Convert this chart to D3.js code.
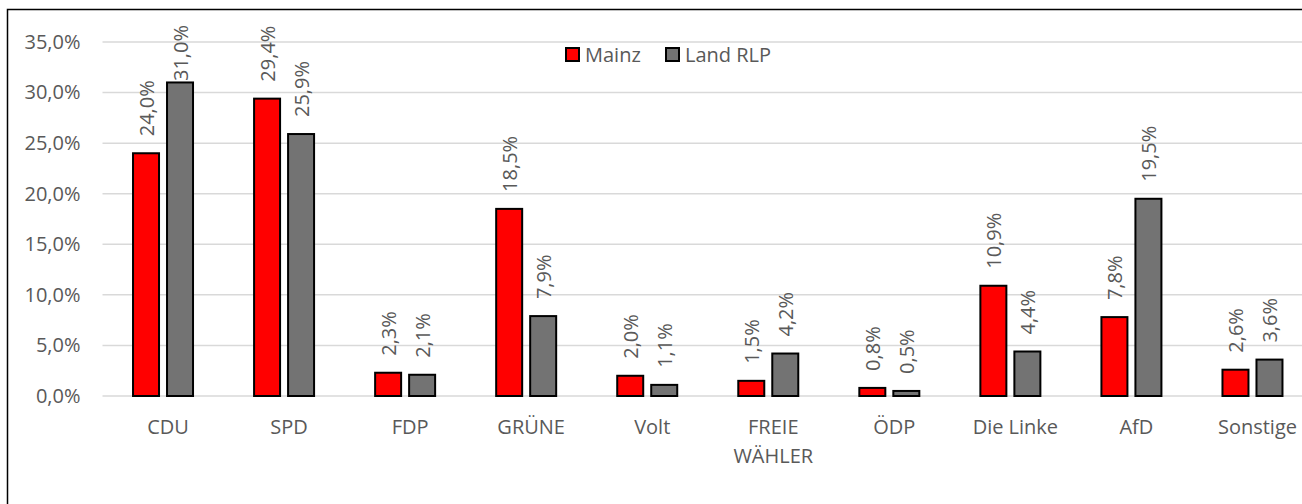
<!DOCTYPE html>
<html>
<head>
<meta charset="utf-8">
<script src="https://cdn.jsdelivr.net/npm/d3@7"></script>
<style>
  body { margin: 0; background: #fff; }
  text { font-family: "Open Sans", sans-serif; fill: #595959; }
</style>
</head>
<body>
<script>
// chart data
var parties = ["CDU", "SPD", "FDP", "GRÜNE", "Volt", "FREIE WÄHLER", "ÖDP", "Die Linke", "AfD", "Sonstige"];
var mainz = [24.0, 29.4, 2.3, 18.5, 2.0, 1.5, 0.8, 10.9, 7.8, 2.6];
var landRLP = [31.0, 25.9, 2.1, 7.9, 1.1, 4.2, 0.5, 4.4, 19.5, 3.6];
var seriesNames = ["Mainz", "Land RLP"];
var seriesColors = ["#ff0000", "#737373"];
var yTicks = [0, 5, 10, 15, 20, 25, 30, 35];

var W = 1302, H = 504;
var margin = {top: 42, right: -11, bottom: 108, left: 102.5};
var width = W - margin.left - margin.right,
    height = H - margin.top - margin.bottom;

var fmt = d3.formatLocale({decimal: ",", thousands: ".", grouping: [3], currency: ["", "€"]}).format(".1f");

var svg = d3.select("body").append("svg")
    .attr("width", W).attr("height", H);

// outer chart frame (only top and left visible in the crop)
svg.append("rect")
    .attr("x", 7.5).attr("y", 9.5)
    .attr("width", 1400).attr("height", 600)
    .attr("fill", "none").attr("stroke", "#000").attr("stroke-width", 1.5);

var g = svg.append("g")
    .attr("transform", "translate(" + margin.left + "," + margin.top + ")");

var x = d3.scaleBand().domain(parties).range([0, width]);
var bw = x.bandwidth();
var x1 = d3.scaleBand().domain(seriesNames)
    .range([bw / 2 - 31, bw / 2 + 31]).paddingInner(6 / 34);
var y = d3.scaleLinear().domain([0, 35]).range([height, 0]);

// gridlines
g.append("g").selectAll("line")
    .data(yTicks).enter().append("line")
    .attr("x1", 0).attr("x2", width + 20)
    .attr("y1", d => y(d)).attr("y2", d => y(d))
    .attr("stroke", "#d9d9d9").attr("stroke-width", 1.5);

// y axis labels
var yAxis = d3.axisLeft(y).tickValues(yTicks).tickSize(0).tickPadding(22)
    .tickFormat(d => fmt(d) + "%");
var yg = g.append("g").call(yAxis);
yg.select(".domain").remove();
yg.selectAll("text").attr("font-size", 20).attr("font-family", null).attr("fill", "#595959");

// x category labels
var xl = g.append("g").selectAll("text")
    .data(parties).enter().append("text")
    .attr("x", d => x(d) + bw / 2 + 5)
    .attr("y", height + 38)
    .attr("text-anchor", "middle")
    .attr("font-size", 20);
xl.each(function(d) {
    var t = d3.select(this);
    var words = d === "FREIE WÄHLER" ? ["FREIE", "WÄHLER"] : [d];
    words.forEach((w, i) => {
        t.append("tspan").attr("x", x(d) + bw / 2 + 5)
         .attr("dy", i === 0 ? 0 : 29).text(w);
    });
});

// bars
var rows = parties.map((p, i) => ({party: p, values: [mainz[i], landRLP[i]]}));
var groups = g.append("g").selectAll("g")
    .data(rows).enter().append("g")
    .attr("transform", d => "translate(" + x(d.party) + ",0)");

groups.selectAll("rect")
    .data(d => d.values.map((v, k) => ({name: seriesNames[k], v: v, k: k})))
    .enter().append("rect")
    .attr("x", d => x1(d.name) + 1)
    .attr("width", x1.bandwidth() - 2)
    .attr("y", d => y(d.v))
    .attr("height", d => height - y(d.v))
    .attr("fill", d => seriesColors[d.k])
    .attr("stroke", "#000").attr("stroke-width", 2);

// value labels, rotated, kept inside the top of the chart
groups.selectAll("text.val")
    .data(d => d.values.map((v, k) => ({name: seriesNames[k], v: v, k: k})))
    .enter().append("text")
    .attr("class", "val")
    .attr("font-size", 20)
    .attr("dominant-baseline", "central")
    .text(d => fmt(d.v) + "%")
    .each(function(d) {
        var len = this.getComputedTextLength();
        var cx = x1(d.name) + x1.bandwidth() / 2;
        var end = Math.max(y(d.v) - 17, 25 - margin.top + len);
        d3.select(this).attr("transform", "translate(" + cx + "," + end + ") rotate(-90)");
    });

// legend
var legend = svg.append("g").attr("transform", "translate(565,47)");
var lx = [0, 100];
seriesNames.forEach((n, i) => {
    legend.append("rect")
        .attr("x", lx[i] + 1).attr("y", 1)
        .attr("width", 13).attr("height", 13)
        .attr("fill", seriesColors[i])
        .attr("stroke", "#000").attr("stroke-width", 2);
    legend.append("text")
        .attr("x", lx[i] + 20).attr("y", 7.5)
        .attr("dominant-baseline", "central")
        .attr("font-size", 20)
        .text(n);
});
</script>
</body>
</html>
